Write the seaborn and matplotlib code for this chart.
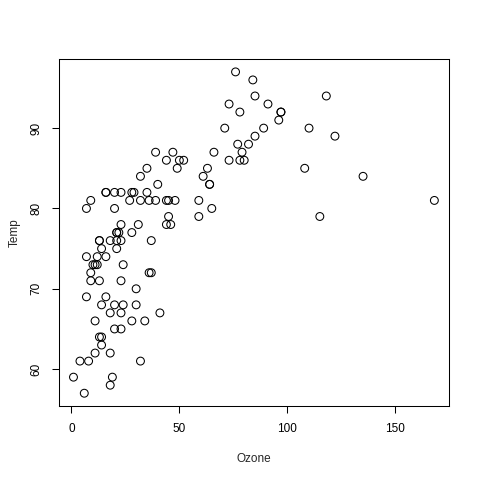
import numpy as np
import pandas as pd
import seaborn as sns
import matplotlib.pyplot as plt

# airquality, complete Ozone/Temp pairs
ozone = [41, 36, 12, 18, 28, 23, 19, 8, 7, 16, 11, 14, 18, 14, 34, 6, 30, 11, 1, 11,
         4, 32, 23, 45, 115, 37, 29, 71, 39, 23, 21, 37, 20, 12, 13, 135, 49, 32, 64, 40,
         77, 97, 97, 85, 10, 27, 7, 48, 35, 61, 79, 63, 16, 80, 108, 20, 52, 82, 50, 64,
         59, 39, 9, 16, 78, 35, 66, 122, 89, 110, 44, 28, 65, 22, 59, 23, 31, 44, 21, 9,
         45, 168, 73, 76, 118, 84, 85, 96, 78, 73, 91, 47, 32, 20, 23, 21, 24, 44, 21, 28,
         9, 13, 46, 18, 13, 24, 16, 13, 23, 36, 7, 14, 30, 14, 18, 20]
temp = [67, 72, 74, 62, 66, 65, 59, 61, 74, 69, 66, 68, 58, 64, 66, 57, 68, 62, 59, 73,
        61, 61, 67, 81, 79, 76, 82, 90, 87, 82, 77, 72, 65, 73, 76, 84, 85, 81, 83, 83,
        88, 92, 92, 89, 73, 81, 80, 81, 82, 84, 87, 85, 74, 86, 85, 82, 86, 88, 86, 83,
        81, 81, 81, 82, 86, 85, 87, 89, 90, 90, 86, 82, 80, 77, 79, 76, 78, 78, 77, 72,
        79, 81, 86, 97, 94, 96, 94, 91, 92, 93, 93, 87, 84, 80, 78, 75, 73, 81, 76, 77,
        71, 71, 78, 67, 76, 68, 82, 64, 71, 81, 69, 63, 70, 75, 76, 68]

df = pd.DataFrame({"Ozone": ozone, "Temp": temp})

sns.set_style("white")
plt.rcParams["font.family"] = ["Liberation Sans", "DejaVu Sans"]

fig = plt.figure(figsize=(4.8, 4.8), dpi=100)
ax = fig.add_axes([0.123, 0.154, 0.812, 0.723])

sns.scatterplot(data=df, x="Ozone", y="Temp", ax=ax, s=32,
                facecolor="none", edgecolor="black", linewidth=0.75)

ax.set_xlim(-5.68, 174.68)
ax.set_ylim(55.4, 98.6)
ax.set_xticks([0, 50, 100, 150])
ax.set_yticks([60, 70, 80, 90])
ax.tick_params(direction="out", length=5, width=0.75, labelsize=8.5, colors="black",
               bottom=True, left=True, pad=7)
for lab in ax.get_yticklabels():
    lab.set_rotation(90)
    lab.set_va("center")
for sp in ax.spines.values():
    sp.set_color("black")
    sp.set_linewidth(0.75)

ax.set_xlabel("Ozone", fontsize=8.5)
ax.set_ylabel("Temp", fontsize=8.5)
ax.xaxis.set_label_coords(0.5, -0.135)
ax.yaxis.set_label_coords(-0.098, 0.5)

fig.savefig("out.png", dpi=100)
